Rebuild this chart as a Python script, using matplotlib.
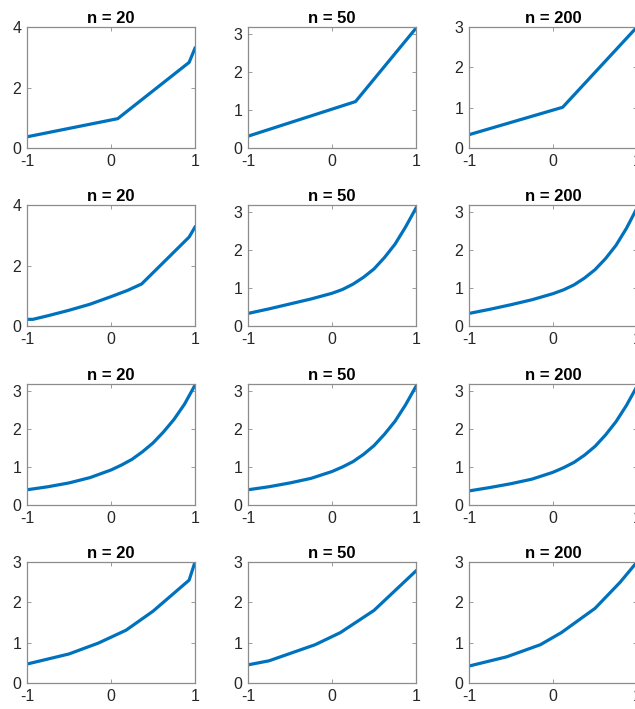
import matplotlib
matplotlib.use("Agg")
import matplotlib.pyplot as plt
import numpy as np

plt.rcParams['font.family'] = ['Liberation Sans', 'DejaVu Sans']

titles = ["n = 20", "n = 50", "n = 200"]

# row 1
r1_n20_x = [-1, 0.08, 0.93, 1]
r1_n20_y = [0.37, 0.97, 2.83, 3.3]
r1_n50_x = [-1, 0.28, 1]
r1_n50_y = [0.31, 1.22, 3.15]
r1_n200_x = [-1, 0.115, 1]
r1_n200_y = [0.33, 1.01, 3.0]

# row 2
r2_n20_x = [-1, -0.93, -0.75, -0.5, -0.25, 0, 0.2, 0.365, 0.93, 1]
r2_n20_y = [0.22, 0.22, 0.34, 0.52, 0.72, 0.97, 1.18, 1.39, 2.94, 3.27]
r2_n50_x = [-1, -0.75, -0.5, -0.25, 0, 0.125, 0.25, 0.375, 0.5, 0.625, 0.75, 0.875, 1]
r2_n50_y = [0.33, 0.45, 0.58, 0.71, 0.86, 0.96, 1.1, 1.28, 1.5, 1.8, 2.15, 2.6, 3.1]
r2_n200_x = [-1, -0.75, -0.5, -0.25, 0, 0.125, 0.25, 0.375, 0.5, 0.625, 0.75, 0.875, 1]
r2_n200_y = [0.33, 0.44, 0.56, 0.69, 0.85, 0.95, 1.08, 1.26, 1.48, 1.77, 2.12, 2.57, 3.1]

# row 3
r3_n20_x = [-1, -0.75, -0.5, -0.25, 0, 0.125, 0.25, 0.375, 0.5, 0.625, 0.75, 0.875, 0.95, 1]
r3_n20_y = [0.4, 0.48, 0.58, 0.72, 0.92, 1.05, 1.2, 1.4, 1.63, 1.92, 2.25, 2.65, 2.95, 3.15]
r3_n50_x = [-1, -0.75, -0.5, -0.25, 0, 0.125, 0.25, 0.375, 0.5, 0.625, 0.75, 0.875, 1]
r3_n50_y = [0.4, 0.48, 0.58, 0.7, 0.88, 1.0, 1.14, 1.33, 1.56, 1.86, 2.2, 2.63, 3.12]
r3_n200_x = [-1, -0.75, -0.5, -0.25, 0, 0.125, 0.25, 0.375, 0.5, 0.625, 0.75, 0.875, 1]
r3_n200_y = [0.37, 0.46, 0.56, 0.68, 0.86, 0.98, 1.12, 1.31, 1.54, 1.84, 2.19, 2.62, 3.12]

# row 4
r4_n20_x = [-1, -0.5, -0.15, 0.18, 0.5, 0.93, 1]
r4_n20_y = [0.47, 0.72, 0.99, 1.31, 1.78, 2.55, 3.0]
r4_n50_x = [-1, -0.75, -0.2, 0.1, 0.5, 1]
r4_n50_y = [0.45, 0.55, 0.95, 1.25, 1.8, 2.78]
r4_n200_x = [-1, -0.55, -0.15, 0.1, 0.5, 0.8, 1]
r4_n200_y = [0.42, 0.65, 0.95, 1.25, 1.85, 2.5, 3.0]

rows = [
    [(r1_n20_x, r1_n20_y), (r1_n50_x, r1_n50_y), (r1_n200_x, r1_n200_y)],
    [(r2_n20_x, r2_n20_y), (r2_n50_x, r2_n50_y), (r2_n200_x, r2_n200_y)],
    [(r3_n20_x, r3_n20_y), (r3_n50_x, r3_n50_y), (r3_n200_x, r3_n200_y)],
    [(r4_n20_x, r4_n20_y), (r4_n50_x, r4_n50_y), (r4_n200_x, r4_n200_y)],
]
ylims = [
    [(0, 4), (0, 3.18), (0, 3)],
    [(0, 4), (0, 3.18), (0, 3.18)],
    [(0, 3.18), (0, 3.18), (0, 3.18)],
    [(0, 3), (0, 3), (0, 3)],
]
yticks = [
    [[0, 2, 4], [0, 1, 2, 3], [0, 1, 2, 3]],
    [[0, 2, 4], [0, 1, 2, 3], [0, 1, 2, 3]],
    [[0, 1, 2, 3], [0, 1, 2, 3], [0, 1, 2, 3]],
    [[0, 1, 2, 3], [0, 1, 2, 3], [0, 1, 2, 3]],
]

W, H = 635, 709
fig = plt.figure(figsize=(W / 100, H / 100), dpi=100)
lefts = [27, 248, 469]
tops = [27, 205, 384, 562]
aw, ah = 168, 121
blue = '#0072BD'
for r in range(4):
    for c in range(3):
        ax = fig.add_axes([lefts[c] / W, 1 - (tops[r] + ah) / H, aw / W, ah / H])
        x, y = rows[r][c]
        ax.plot(x, y, color=blue, lw=2.3, solid_joinstyle='round', clip_on=True)
        ax.set_xlim(-1, 1)
        ax.set_ylim(*ylims[r][c])
        ax.set_xticks([-1, 0, 1])
        ax.set_xticklabels(['-1', '0', '1'])
        ax.set_yticks(yticks[r][c])
        ax.tick_params(direction='in', length=3, width=0.6, labelcolor='0.15',
                       labelsize=11.5, top=True, right=True, color='0.55')
        ax.tick_params(axis='x', pad=4)
        ax.tick_params(axis='y', pad=4)
        for s in ax.spines.values():
            s.set_color('0.55')
            s.set_linewidth(0.9)
        ax.set_title(titles[c], fontsize=12, fontweight='bold', pad=3)

fig.savefig('out.png', dpi=100)
